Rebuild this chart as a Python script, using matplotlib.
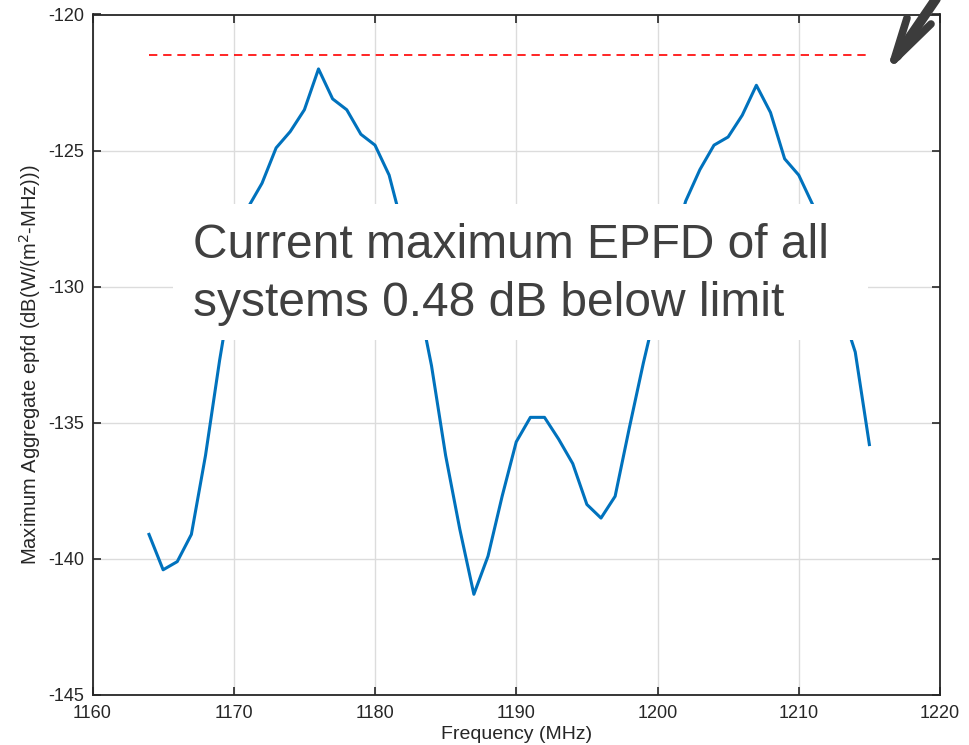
import numpy as np
import matplotlib
matplotlib.use("Agg")
import matplotlib.pyplot as plt
from matplotlib.patches import Rectangle
from matplotlib.lines import Line2D

plt.rcParams['font.family'] = ['Liberation Sans', 'DejaVu Sans']
plt.rcParams['axes.unicode_minus'] = False

# frequency (MHz) and max aggregate epfd (dB(W/(m2-MHz)))
freq = np.arange(1164, 1216)
epfd = [-139.1, -140.4, -140.1, -139.1, -136.2, -132.7, -129.6, -127.1,
        -126.2, -124.9, -124.3, -123.5, -122.0, -123.1, -123.5, -124.4,
        -124.8, -125.9, -127.9, -130.3, -132.9, -136.2, -138.9, -141.3,
        -139.9, -137.7, -135.7, -134.8, -134.8, -135.6, -136.5, -138.0,
        -138.5, -137.7, -135.2, -132.8, -130.6, -128.6, -126.85, -125.7,
        -124.8, -124.5, -123.7, -122.6, -123.6, -125.3, -125.9, -127.0,
        -128.9, -130.8, -132.4, -135.8]
limit_freq = [1164, 1215]
limit_val = [-121.5, -121.5]

note_lines = ["Current maximum EPFD of all", "systems 0.48 dB below limit"]

W, H = 969, 745
fig = plt.figure(figsize=(W / 100, H / 100), dpi=100)
ax = fig.add_axes([92.5 / W, 1 - 695 / H, (940 - 92.5) / W, (695 - 14.5) / H])

ax.plot(freq, epfd, color='#0072BD', lw=2.2, zorder=3)
ax.plot(limit_freq, limit_val, 'r--', lw=1.2, dashes=(5, 3.5), zorder=3)

ax.set_xlim(1160, 1220)
ax.set_ylim(-145, -120)
ax.set_xticks(np.arange(1160, 1221, 10))
ax.set_yticks(np.arange(-145, -119, 5))
ax.grid(True, color='#dcdcdc', lw=1.0)
ax.set_axisbelow(True)

for s in ax.spines.values():
    s.set_color('#262626')
    s.set_linewidth(1.3)
ax.tick_params(direction='in', length=6, width=1.2, colors='#262626',
               top=True, right=True, labelsize=13)
ax.tick_params(axis='y', pad=6)
ax.tick_params(axis='x', pad=7)

ax.set_xlabel("Frequency (MHz)", fontsize=14, color='#262626', labelpad=3)
ax.set_ylabel("Maximum Aggregate epfd (dB(W/(m$^2$-MHz)))", fontsize=14.5,
              color='#262626', labelpad=2)
ax.yaxis.set_label_coords(-0.058, 0.485)

# white note box over the plot
fig.patches.append(Rectangle((173 / W, 1 - 340 / H), 695 / W, 136 / H,
                             transform=fig.transFigure, facecolor='white',
                             edgecolor='none', zorder=10))
fig.text(193 / W, 1 - 258 / H, note_lines[0], fontsize=34.5, color='#404040',
         va='baseline', ha='left', zorder=11)
fig.text(193 / W, 1 - 316 / H, note_lines[1], fontsize=34.5, color='#404040',
         va='baseline', ha='left', zorder=11)

# hand drawn arrow, top right
arrow_col = '#3c3c3c'
for (x0, y0), (x1, y1), lw in [((938, -4), (897, 56), 7.0),
                                ((907, 18), (894, 60), 5.5),
                                ((894, 60), (931, 24), 5.5)]:
    fig.add_artist(Line2D([x0 / W, x1 / W], [1 - y0 / H, 1 - y1 / H],
                          transform=fig.transFigure, color=arrow_col, lw=lw,
                          solid_capstyle='round', zorder=12))

fig.savefig("out.png", dpi=100)
